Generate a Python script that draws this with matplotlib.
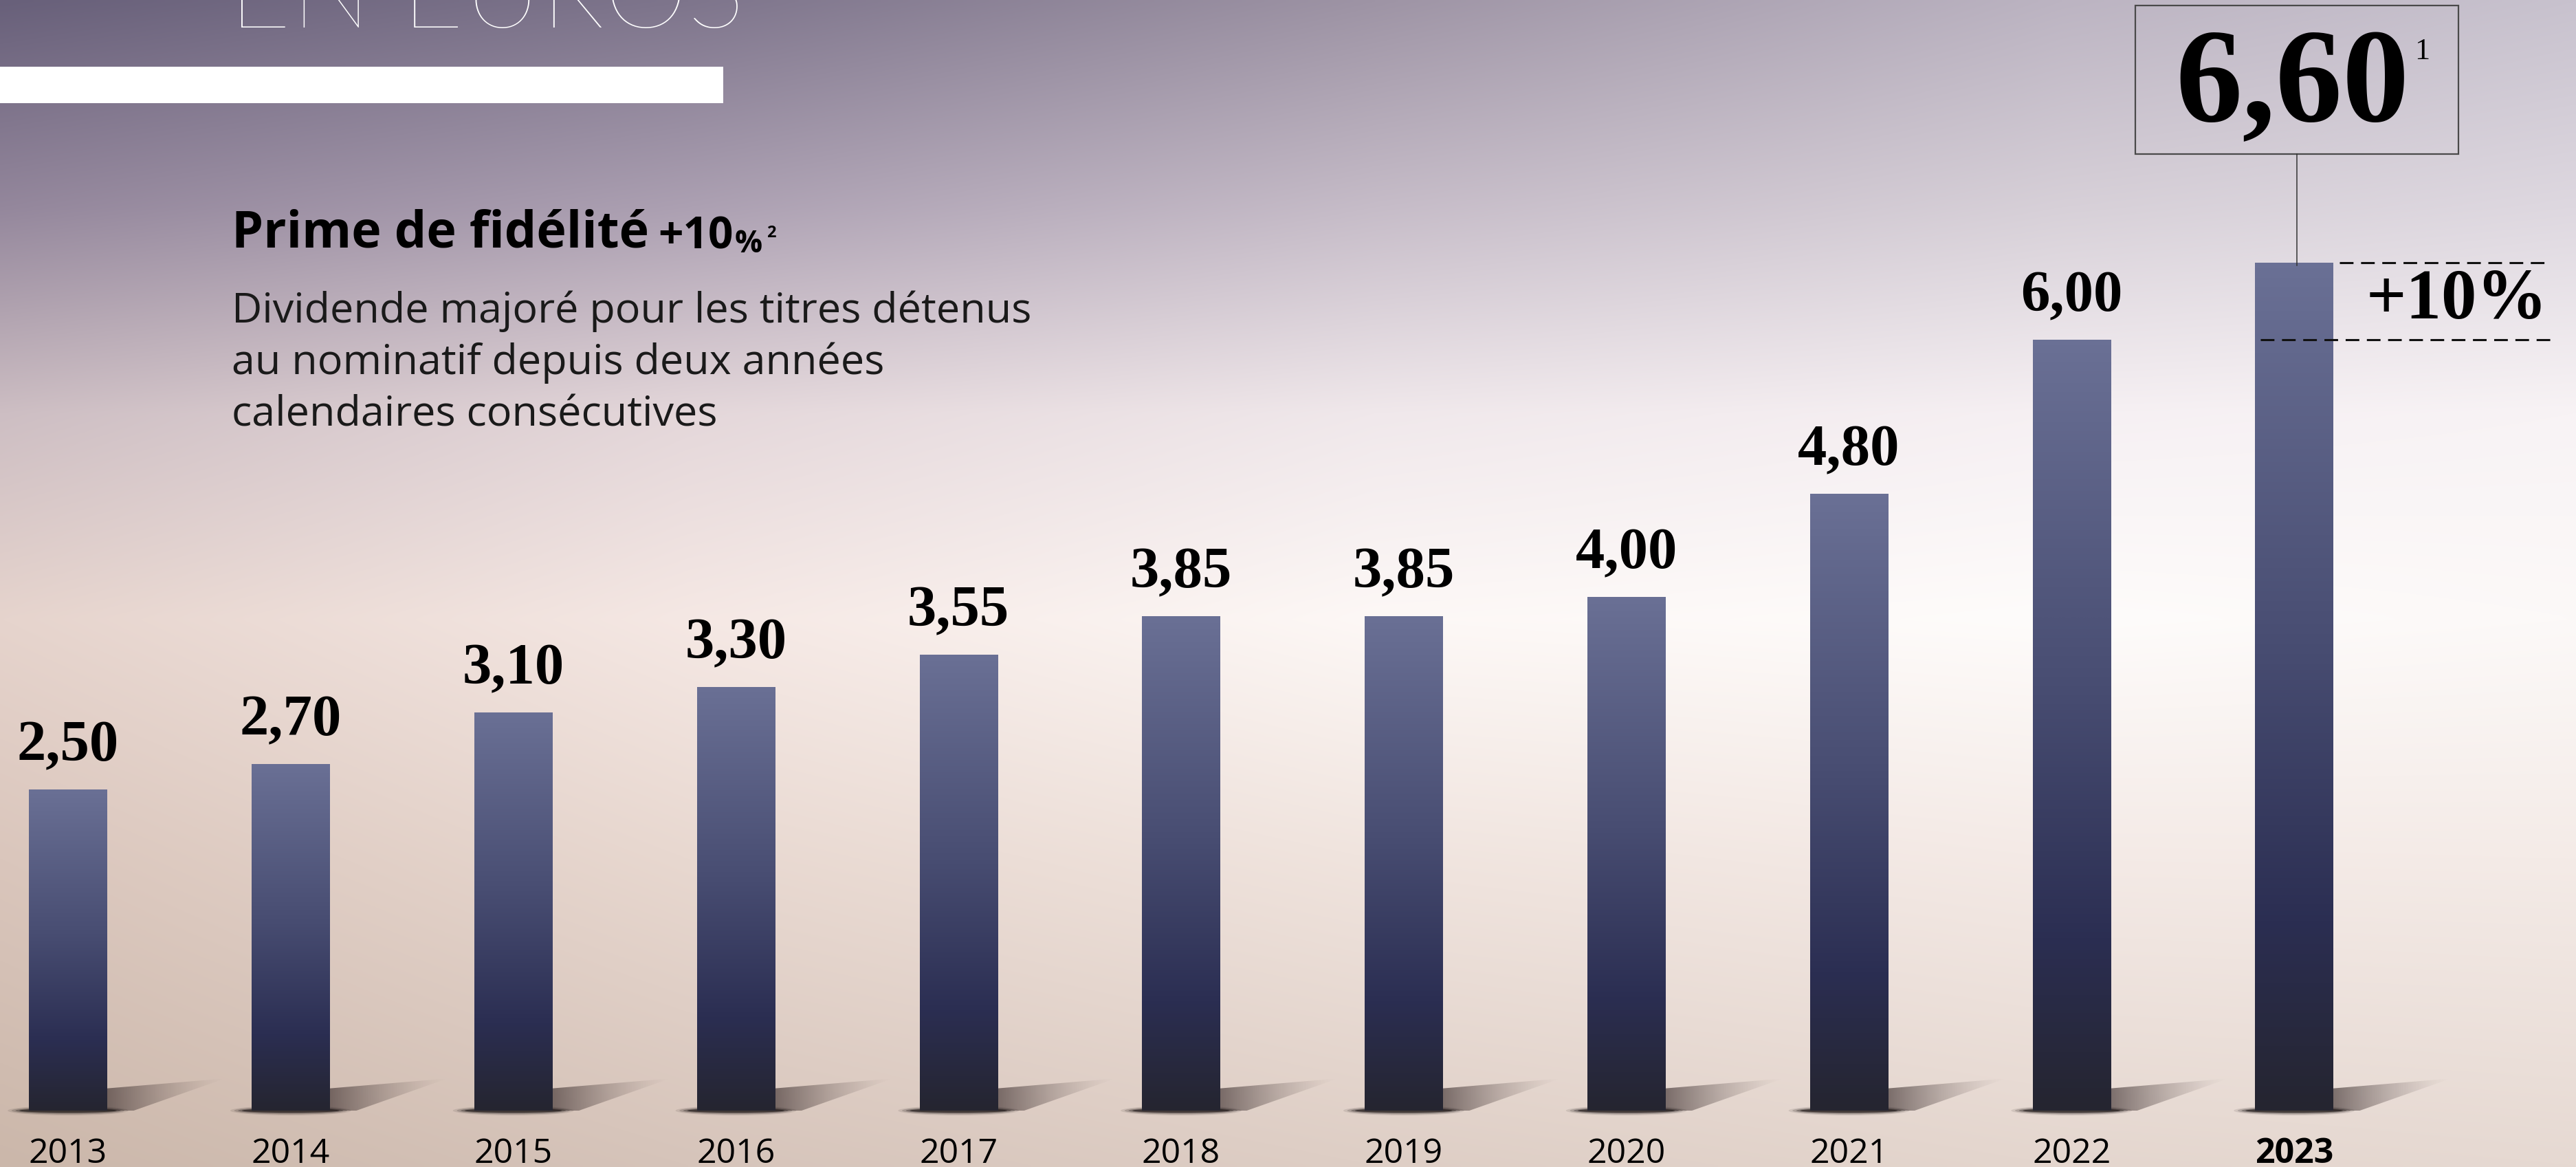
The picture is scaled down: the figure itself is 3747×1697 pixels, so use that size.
import numpy as np
import matplotlib
matplotlib.use("Agg")
import matplotlib.pyplot as plt
from matplotlib.patches import Rectangle, Ellipse, Polygon
from matplotlib.colors import LinearSegmentedColormap

# ---------------- data ----------------
years = ['2013', '2014', '2015', '2016', '2017', '2018', '2019', '2020', '2021', '2022', '2023']
dividends = [2.50, 2.70, 3.10, 3.30, 3.55, 3.85, 3.85, 4.00, 4.80, 6.00, 6.60]
loyalty_bonus_pct = 10
title_text = "EN EUROS"
subtitle_main = "Prime de fidélité "
subtitle_pct = "+10"
desc_lines = ["Dividende majoré pour les titres détenus",
              "au nominatif depuis deux années",
              "calendaires consécutives"]

def fmt(v):
    return f"{v:.2f}".replace('.', ',')

# ---------------- layout ----------------
W, H, DPI = 3748, 1697, 100
PX = 323.8      # pixels per category
X0 = 99         # pixel of first category centre
PY = 186.8      # pixels per euro
Y0 = 1615       # pixel row of baseline (from top)

fig = plt.figure(figsize=(W / DPI, H / DPI), dpi=DPI)
ax = fig.add_axes([0, 0, 1, 1])
xmin, xmax = -X0 / PX, (W - X0) / PX
ymin, ymax = -(H - Y0) / PY, Y0 / PY
ax.set_xlim(xmin, xmax)
ax.set_ylim(ymin, ymax)
ax.axis('off')

# ---------------- background gradient ----------------
gy = np.array([0, 300, 600, 900, 1250, 1697])
gx = np.array([0, 1000, 2000, 3000, 3748])
grid = np.array([
    [(104, 96, 122), (126, 117, 140), (158, 148, 165), (188, 180, 194), (200, 194, 206)],
    [(148, 135, 156), (172, 160, 178), (198, 188, 200), (215, 208, 216), (222, 216, 224)],
    [(205, 190, 195), (228, 215, 218), (240, 232, 235), (246, 240, 243), (248, 243, 245)],
    [(230, 212, 205), (245, 232, 228), (253, 248, 246), (254, 252, 251), (252, 249, 248)],
    [(218, 198, 188), (232, 216, 208), (240, 228, 222), (244, 234, 230), (244, 235, 231)],
    [(203, 183, 170), (214, 196, 186), (222, 206, 197), (228, 214, 206), (230, 217, 210)],
], dtype=float) / 255.0
ny, nx = 340, 750
ys = np.linspace(0, H, ny)
xs = np.linspace(0, W, nx)
tmp = np.zeros((ny, len(gx), 3))
for j in range(len(gx)):
    for c in range(3):
        tmp[:, j, c] = np.interp(ys, gy, grid[:, j, c])
bg = np.zeros((ny, nx, 3))
for i in range(ny):
    for c in range(3):
        bg[i, :, c] = np.interp(xs, gx, tmp[i, :, c])
ax.imshow(bg, extent=(xmin, xmax, ymin, ymax), origin='upper', aspect='auto',
          interpolation='bilinear', zorder=0)

# ---------------- bars ----------------
bar_w = 0.35
x = np.arange(len(years))
bars = ax.bar(x, dividends, width=bar_w, color='none', edgecolor='none', zorder=3)

bar_cmap = LinearSegmentedColormap.from_list('bar', [
    (0.0, (0x25 / 255, 0x25 / 255, 0x30 / 255)),
    (0.22, (0x2b / 255, 0x2e / 255, 0x52 / 255)),
    (0.55, (0x48 / 255, 0x4d / 255, 0x72 / 255)),
    (1.0, (0x6a / 255, 0x70 / 255, 0x95 / 255)),
])
grad = np.linspace(0, 1, 256).reshape(-1, 1)

shadow_len = 0.53
for xi, b in zip(x, bars):
    h = b.get_height()
    x_l = b.get_x()
    x_r = x_l + b.get_width()
    im = ax.imshow(grad, extent=(x_l, x_r, 0, h), origin='lower', aspect='auto',
                   cmap=bar_cmap, zorder=3, interpolation='bilinear')
    im.set_clip_path(b)
    # contact shadow (soft ellipse)
    for sw, sh, a in [(1.55, 0.075, 0.10), (1.45, 0.060, 0.18),
                      (1.35, 0.045, 0.30), (1.25, 0.032, 0.60)]:
        ax.add_patch(Ellipse((xi, 0), bar_w * sw, sh, color=(0.10, 0.08, 0.08),
                             alpha=a, lw=0, zorder=2))
    # cast shadow toward the upper right
    sx = np.linspace(0, 1, 120)
    sy = np.linspace(0, 1, 60)
    SX, SY = np.meshgrid(sx, sy)
    alpha = 0.65 * (1 - SX) ** 1.4
    rgba = np.zeros((60, 120, 4))
    rgba[..., 0] = 0.22
    rgba[..., 1] = 0.17
    rgba[..., 2] = 0.17
    rgba[..., 3] = alpha
    sim = ax.imshow(rgba, extent=(x_r - 0.02, x_r + shadow_len, 0, 0.26), origin='lower',
                    aspect='auto', zorder=1.5, interpolation='bilinear')
    poly = Polygon([(x_r - 0.02, 0), (x_r - 0.02, 0.17), (x_r + shadow_len, 0.25),
                    (x_r + 0.12, 0.0)], closed=True, transform=ax.transData,
                   facecolor='none', edgecolor='none')
    ax.add_patch(poly)
    sim.set_clip_path(poly)

# ---------------- value labels ----------------
serif = ['Liberation Serif', 'DejaVu Serif']
for xi, v in zip(x[:-1], dividends[:-1]):
    ax.annotate(fmt(v), xy=(xi, v), xytext=(0, 30), textcoords='offset points',
                ha='center', va='baseline', fontsize=61, fontweight='bold',
                family=serif, color='black', zorder=5)

# ---------------- year labels ----------------
sans = ['Open Sans', 'DejaVu Sans']
for xi, yr in zip(x, years):
    is_last = (yr == years[-1])
    ax.annotate(yr, xy=(xi, 0), xytext=(0, -55), textcoords='offset points',
                ha='center', va='baseline', fontsize=36,
                fontweight='bold' if is_last else 'normal',
                family=sans, color='black', zorder=5)

# ---------------- highlight for last year ----------------
xl = x[-1]
vl = dividends[-1]
base = vl / (1 + loyalty_bonus_pct / 100)
box_bottom = vl + 158 / PY
box_top = box_bottom + 216 / PY
box_half = 235 / PX
xc = xl + 4 / PX
ax.add_patch(Rectangle((xc - box_half, box_bottom), 2 * box_half, box_top - box_bottom,
                       facecolor='none', edgecolor='#4a4a4a', lw=1.6, zorder=6))
ax.plot([xc, xc], [box_bottom, vl - 4 / PY], color='#333333', lw=1.1, zorder=6)
t660 = ax.text(xc - 6 / PX, box_bottom + 48 / PY, fmt(vl), ha='center', va='baseline',
               fontsize=140, fontweight='bold', family=serif, color='black', zorder=7)
ax.annotate("1", xy=(1, 0.92), xycoords=t660, xytext=(5, 0), textcoords='offset points',
            ha='left', va='top', fontsize=32, family=serif, color='black', zorder=7)

# dashed lines and +10 %
ax.plot([xl + 0.205, xl + 1.155], [vl, vl], color='#111111', lw=2.2,
        linestyle=(0, (6.5, 3.6)), zorder=6)
ax.plot([xl - 0.15, xl + 1.155], [base, base], color='#111111', lw=2.2,
        linestyle=(0, (6.5, 3.6)), zorder=6)
ax.text(xl + 1.14, (vl + base) / 2, f"+{loyalty_bonus_pct}%", ha='right', va='center',
        fontsize=74, fontweight='bold', family=serif, color='black', zorder=7)

# ---------------- header texts ----------------
fig.text(333 / W, 1 - 40 / H, title_text, ha='left', va='baseline', fontsize=112,
         fontweight='light', family=['Lato', 'DejaVu Sans'], color='white', zorder=5)
fig.add_artist(Rectangle((0, 1 - 150 / H), 1052 / W, 53 / H, transform=fig.transFigure,
                         facecolor='white', edgecolor='none', zorder=5))

t1 = fig.text(337 / W, 1 - 360 / H, subtitle_main, ha='left', va='baseline', fontsize=53,
              fontweight='bold', family=sans, color='black', zorder=5)
t2 = ax.annotate(subtitle_pct, xy=(1, 0), xycoords=t1, xytext=(-4, 0), textcoords='offset points',
                 ha='left', va='bottom', fontsize=46, fontweight='bold', family=sans,
                 color='black', annotation_clip=False)
t3 = ax.annotate("%", xy=(1, 0), xycoords=t2, xytext=(1, 0), textcoords='offset points',
                 ha='left', va='bottom', fontsize=32, fontweight='bold', family=sans,
                 color='black', annotation_clip=False)
ax.annotate("2", xy=(1, 1), xycoords=t3, xytext=(5, 4), textcoords='offset points',
            ha='left', va='top', fontsize=17, fontweight='bold', family=sans,
            color='black', annotation_clip=False)

for k, line in enumerate(desc_lines):
    fig.text(337 / W, 1 - (469 + 75 * k) / H, line, ha='left', va='baseline', fontsize=44,
             fontweight='normal', family=sans, color='#1a1a1a', zorder=5)

fig.savefig('out.png', dpi=DPI)
